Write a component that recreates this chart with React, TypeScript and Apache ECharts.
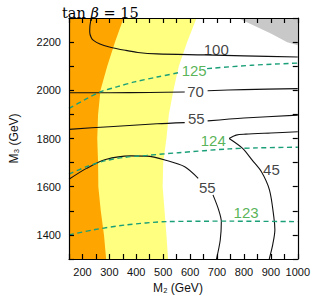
import React, { useEffect, useRef } from 'react';
import * as echarts from 'echarts';

// Axis ranges (GeV)
const M2_MIN = 150;
const M2_MAX = 1000;
const M3_MIN = 1300;
const M3_MAX = 2300;

// Region boundaries: [M2, M3]
const orangeBoundary: number[][] = [
  [353, 2300], [321, 2200], [292, 2100], [267, 2000], [258, 1900], [255, 1800],
  [258, 1700], [259, 1600], [268, 1500], [280, 1400], [288, 1300],
];
const yellowBoundary: number[][] = [
  [624, 2300], [589, 2200], [558, 2100], [538, 2000], [521, 1900], [512, 1800],
  [500, 1700], [498, 1600], [505, 1500], [512, 1400], [518, 1300],
];
const grayBoundary: number[][] = [
  [777, 2300], [900, 2236], [961, 2199], [1000, 2187],
];

// Black contours (segments broken at labels)
const contour100: number[][] = [
  [233, 2300], [228, 2270], [227, 2242], [232, 2220], [241, 2207], [265, 2192],
  [300, 2180], [359, 2166], [406, 2157], [477, 2151], [653, 2147], [800, 2143], [1000, 2138],
];
const contour70a: number[][] = [[150, 1990], [300, 1990], [450, 1991], [580, 1993]];
const contour70b: number[][] = [[665, 1998], [800, 2003], [1000, 2007]];
const contour55a1: number[][] = [[150, 1838], [300, 1849], [477, 1861], [580, 1866]];
const contour55a2: number[][] = [[665, 1873], [800, 1885], [1000, 1897]];
const contour45a: number[][] = [[1000, 1828], [900, 1823], [806, 1818], [771, 1814], [745, 1800]];
const contour45b: number[][] = [
  [745, 1800], [795, 1759], [830, 1711], [865, 1662], [895, 1586], [911, 1475],
  [915, 1421], [907, 1360], [894, 1300],
];
const contour55b1: number[][] = [
  [150, 1631], [215, 1676], [286, 1713], [380, 1728], [439, 1727], [510, 1710],
  [580, 1683], [630, 1635],
];
const contour55b2: number[][] = [
  [685, 1566], [706, 1504], [716, 1455], [712, 1379], [698, 1300],
];

// Green dashed (Higgs mass) contours
const higgs125a: number[][] = [
  [150, 1925], [206, 1959], [265, 1993], [330, 2015], [394, 2035], [477, 2055], [565, 2075],
];
const higgs125b: number[][] = [[663, 2090], [830, 2104], [1000, 2113]];
const higgs124: number[][] = [
  [150, 1652], [215, 1683], [286, 1708], [357, 1722], [439, 1730], [557, 1741],
  [745, 1757], [850, 1761], [1000, 1764],
];
const higgs123: number[][] = [
  [150, 1400], [241, 1421], [359, 1441], [512, 1455], [750, 1457], [1000, 1455],
];

// Contour labels
const labelText = ['100', '70', '55', '55', '45', '125', '124', '123'];
const labelM2 = [697, 620, 623, 664, 902, 615, 686, 808];
const labelM3 = [2171, 1996, 1885, 1595, 1671, 2083, 1793, 1493];
const labelIsHiggs = [false, false, false, false, false, true, true, true];

const BLACK = '#111111';
const DASH = '#1a9f78';
const GREEN_TEXT = '#2ca02c';

function polygonSeries(pts: number[][], color: string) {
  return {
    type: 'custom',
    silent: true,
    z: 1,
    clip: true,
    data: [[M2_MIN, M3_MIN]],
    renderItem: (_p: any, api: any) => ({
      type: 'polygon',
      shape: { points: pts.map((p) => api.coord(p)) },
      style: { fill: color, stroke: null },
    }),
  };
}

function lineSeries(pts: number[][], color: string, dashed: boolean) {
  return {
    type: 'line',
    data: pts,
    symbol: 'none',
    showSymbol: false,
    smooth: 0.3,
    silent: true,
    z: 3,
    lineStyle: dashed
      ? { color, width: 1.4, type: [5, 3.5] }
      : { color, width: 1.1, type: 'solid' },
  };
}

const tickFont = { fontFamily: 'Liberation Sans', fontSize: 11, color: '#111' };

export default function App() {
  const ref = useRef<HTMLDivElement>(null);
  useEffect(() => {
    if (!ref.current) return;
    const chart = echarts.init(ref.current, null, { renderer: 'svg' });
    const yellowPoly = [[M2_MIN, M3_MAX], ...yellowBoundary, [M2_MIN, M3_MIN]];
    const orangePoly = [[M2_MIN, M3_MAX], ...orangeBoundary, [M2_MIN, M3_MIN]];
    const grayPoly = [...grayBoundary, [M2_MAX, M3_MAX]];
    const axisCommon = {
      type: 'value',
      z: 10,
      splitLine: { show: false },
      axisTick: {
        show: true,
        inside: true,
        length: 5,
        interval: 0,
        lineStyle: { color: '#000', width: 1.2 },
      },
      axisLine: { show: true, onZero: false, lineStyle: { color: '#000', width: 1.2 } },
    };
    chart.setOption({
      animation: false,
      title: {
        text: '{a|tan }{b|β}{a| = 15}',
        left: 57,
        top: 0,
        textStyle: {
          fontWeight: 'normal',
          rich: {
            a: { fontFamily: 'DejaVu Serif', fontSize: 14.5, fontWeight: 'normal', color: '#000' },
            b: { fontFamily: 'DejaVu Serif', fontSize: 14.5, fontWeight: 'normal', fontStyle: 'italic', color: '#000' },
          },
        },
      },
      grid: { left: 58, right: 15, top: 18, bottom: 42 },
      xAxis: [
        {
          ...axisCommon,
          position: 'bottom',
          min: M2_MIN,
          max: M2_MAX,
          interval: 50,
          name: 'M₂ (GeV)',
          nameLocation: 'middle',
          nameGap: 23,
          nameTextStyle: { fontFamily: 'Liberation Sans', fontSize: 12, color: '#111', padding: [0, 11, 0, 0] },
          axisLabel: {
            ...tickFont,
            margin: 7,
            interval: 0,
            showMinLabel: true,
            showMaxLabel: true,
            formatter: (v: number) => (v % 100 === 0 ? String(v) : ''),
          },
        },
        {
          ...axisCommon,
          position: 'top',
          min: M2_MIN,
          max: M2_MAX,
          interval: 50,
          axisLabel: { show: false },
        },
      ],
      yAxis: [
        {
          ...axisCommon,
          position: 'left',
          min: M3_MIN,
          max: M3_MAX,
          interval: 100,
          name: 'M₃ (GeV)',
          nameLocation: 'middle',
          nameGap: 49,
          nameTextStyle: { fontFamily: 'Liberation Sans', fontSize: 12, color: '#111' },
          axisLabel: {
            ...tickFont,
            margin: 8,
            interval: 0,
            formatter: (v: number) => (v % 200 === 0 ? String(v) : ''),
          },
        },
        {
          ...axisCommon,
          position: 'right',
          min: M3_MIN,
          max: M3_MAX,
          interval: 100,
          axisLabel: { show: false },
        },
      ],
      series: [
        polygonSeries(yellowPoly, '#ffff80'),
        polygonSeries(orangePoly, '#ffa500'),
        polygonSeries(grayPoly, '#c8c8c8'),
        lineSeries(contour100, BLACK, false),
        lineSeries(contour70a, BLACK, false),
        lineSeries(contour70b, BLACK, false),
        lineSeries(contour55a1, BLACK, false),
        lineSeries(contour55a2, BLACK, false),
        lineSeries(contour45a, BLACK, false),
        lineSeries(contour45b, BLACK, false),
        lineSeries(contour55b1, BLACK, false),
        lineSeries(contour55b2, BLACK, false),
        lineSeries(higgs125a, DASH, true),
        lineSeries(higgs125b, DASH, true),
        lineSeries(higgs124, DASH, true),
        lineSeries(higgs123, DASH, true),
        {
          type: 'scatter',
          silent: true,
          z: 5,
          symbolSize: 1,
          itemStyle: { color: 'rgba(0,0,0,0)' },
          label: {
            show: true,
            position: 'inside',
            formatter: '{b}',
            fontFamily: 'Liberation Sans',
            fontSize: 15,
          },
          data: labelText.map((t, i) => ({
            name: t,
            value: [labelM2[i], labelM3[i]],
            label: { color: labelIsHiggs[i] ? GREEN_TEXT : '#111' },
          })),
        },
      ],
    });
    return () => chart.dispose();
  }, []);
  return (
    <div
      ref={ref}
      style={{ position: 'fixed', left: 0, top: 0, width: 313, height: 301, background: '#fff' }}
    />
  );
}
